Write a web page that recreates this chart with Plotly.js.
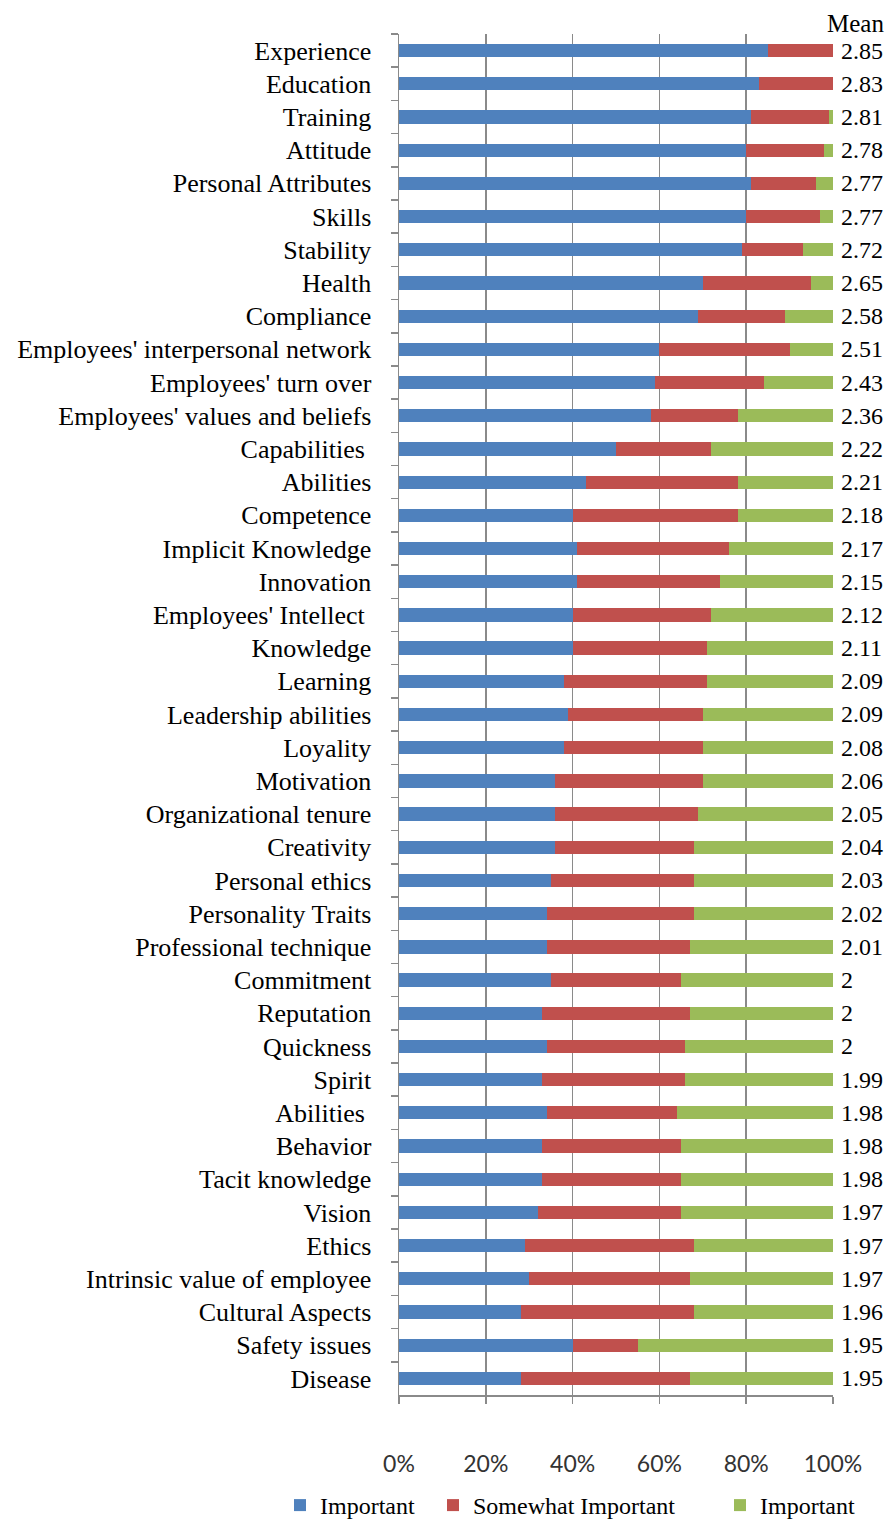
<!DOCTYPE html>
<html>
<head>
<meta charset="utf-8">
<script src="https://cdn.plot.ly/plotly-3.0.1.min.js"></script>
<style>html,body{margin:0;padding:0;background:#fff;}#chart{width:893px;height:1528px;}</style>
</head>
<body>
<div id="chart"></div>
<script>
// Categories (top to bottom). The second "Abilities" carries a trailing space to stay distinct.
var categories = ["Experience","Education","Training","Attitude","Personal Attributes","Skills","Stability","Health","Compliance","Employees' interpersonal network","Employees' turn over","Employees' values and beliefs","Capabilities ","Abilities","Competence","Implicit Knowledge","Innovation","Employees' Intellect ","Knowledge","Learning","Leadership abilities","Loyality","Motivation","Organizational tenure","Creativity","Personal ethics","Personality Traits","Professional technique","Commitment","Reputation","Quickness","Spirit","Abilities ","Behavior","Tacit knowledge","Vision","Ethics","Intrinsic value of employee","Cultural Aspects","Safety issues","Disease"];
var important = [85,83,81,80,81,80,79,70,69,60,59,58,50,43,40,41,41,40,40,38,39,38,36,36,36,35,34,34,35,33,34,33,34,33,33,32,29,30,28,40,28];
var somewhatImportant = [15,17,18,18,15,17,14,25,20,30,25,20,22,35,38,35,33,32,31,33,31,32,34,33,32,33,34,33,30,34,32,33,30,32,32,33,39,37,40,15,39];
var important2 = [0,0,1,2,4,3,7,5,11,10,16,22,28,22,22,24,26,28,29,29,30,30,30,31,32,32,32,33,35,33,34,34,36,35,35,35,32,33,32,45,33];
var means = [2.85,2.83,2.81,2.78,2.77,2.77,2.72,2.65,2.58,2.51,2.43,2.36,2.22,2.21,2.18,2.17,2.15,2.12,2.11,2.09,2.09,2.08,2.06,2.05,2.04,2.03,2.02,2.01,2,2,2,1.99,1.98,1.98,1.98,1.97,1.97,1.97,1.96,1.95,1.95];
var seriesNames = ["Important","Somewhat Important","Important"];
var xTickVals = [0,20,40,60,80,100];
var xTickText = ["0%","20%","40%","60%","80%","100%"];

var serif = "Liberation Serif, Times New Roman, serif";
var colors = ["#4F81BD","#C0504D","#9BBB59"];
var legendIds = ["legend","legend2","legend3"];
var data = [important, somewhatImportant, important2].map(function(vals, i){
  return {
    type: "bar", orientation: "h",
    x: vals, y: categories, name: seriesNames[i],
    marker: {color: colors[i], line: {width: 0}},
    legend: legendIds[i],
    hoverinfo: "x+y"
  };
});

var annotations = categories.map(function(c, i){
  return {
    xref: "x domain", yref: "y", x: 1, y: c, xanchor: "left", yanchor: "middle",
    xshift: 6, showarrow: false, text: String(means[i]),
    font: {family: serif, size: 24, color: "#000"}
  };
});
annotations.push({
  xref: "x domain", yref: "y domain", x: 1, y: 1, xanchor: "left", yanchor: "bottom",
  xshift: -8, yshift: -5, showarrow: false, text: "Mean",
  font: {family: serif, size: 25, color: "#000"}
});

var W = 893, H = 1528;
function legendAt(textLeftPx){
  return {
    orientation: "h", x: (textLeftPx - 40) / W, xanchor: "left",
    y: 0, yanchor: "bottom", bgcolor: "rgba(0,0,0,0)",
    font: {family: serif, size: 24, color: "#000"}, itemclick: false
  };
}
var layout = {
  width: W, height: H,
  margin: {l: 0, r: 0, t: 0, b: 0},
  barmode: "stack", bargap: 0.6,
  paper_bgcolor: "#fff", plot_bgcolor: "#fff",
  showlegend: true,
  legend: legendAt(320),
  legend2: legendAt(473),
  legend3: legendAt(760),
  xaxis: {
    domain: [399 / W, 833 / W], automargin: false,
    range: [0, 100], tickmode: "array", tickvals: xTickVals, ticktext: xTickText,
    showgrid: true, gridcolor: "#8a8a8a", gridwidth: 1.5,
    showline: true, linecolor: "#8a8a8a", linewidth: 1.5,
    ticks: "outside", ticklen: 7, tickcolor: "#8a8a8a", tickwidth: 1.5,
    ticklabelstandoff: 41,
    tickfont: {family: "Lato, Carlito, sans-serif", size: 23, color: "#333"},
    zeroline: false, fixedrange: true
  },
  yaxis: {
    domain: [(H - 1395) / H, (H - 34) / H], automargin: false,
    type: "category", autorange: "reversed",
    showline: true, linecolor: "#8a8a8a", linewidth: 1.5,
    ticks: "outside", tickson: "boundaries", ticklen: 7, tickcolor: "#8a8a8a", tickwidth: 1.5,
    ticklabelstandoff: 21,
    tickfont: {family: serif, size: 26, color: "#000"},
    showgrid: false, fixedrange: true
  },
  annotations: annotations
};

Plotly.newPlot("chart", data, layout, {displayModeBar: false, staticPlot: true});
</script>
</body>
</html>
